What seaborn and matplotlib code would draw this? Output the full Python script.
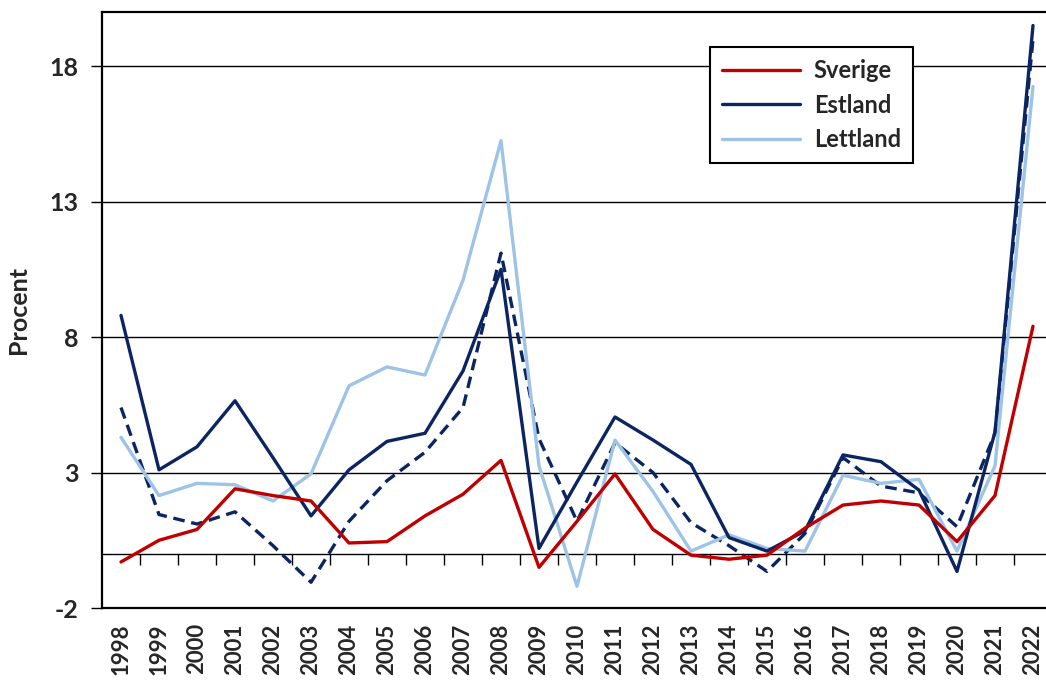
import matplotlib
matplotlib.use("Agg")
import matplotlib.pyplot as plt
import seaborn as sns
import pandas as pd
import numpy as np

years = list(range(1998, 2023))
sverige = [-0.3, 0.5, 0.9, 2.4, 2.15, 1.95, 0.4, 0.45, 1.4, 2.2, 3.45, -0.5, 1.2, 2.95, 0.9,
           -0.05, -0.2, -0.05, 0.95, 1.8, 1.95, 1.8, 0.45, 2.15, 8.4]
estland = [8.8, 3.1, 3.95, 5.65, 3.55, 1.4, 3.1, 4.15, 4.45, 6.75, 10.5, 0.2, 2.65, 5.05, 4.2,
           3.3, 0.6, 0.1, 0.85, 3.65, 3.4, 2.35, -0.65, 4.5, 19.5]
estland_dashed = [5.4, 1.45, 1.1, 1.55, 0.3, -1.05, 1.2, 2.7, 3.75, 5.4, 11.1, 4.25, 1.2, 4.1, 3.0,
                  1.15, 0.3, -0.65, 0.75, 3.55, 2.5, 2.25, 1.0, 4.45, 19.0]
lettland = [4.3, 2.15, 2.6, 2.55, 1.95, 2.95, 6.2, 6.9, 6.6, 10.1, 15.25, 3.25, -1.2, 4.2, 2.3,
            0.1, 0.7, 0.2, 0.1, 2.9, 2.6, 2.75, 0.1, 3.25, 17.25]
y_ticks = [-2, 3, 8, 13, 18]

RED = "#C00000"
NAVY = "#0B2562"
LIGHT = "#9DC3E6"

sns.set_theme(style="white")
plt.rcParams['font.family'] = ['Lato', 'DejaVu Sans']
plt.rcParams['font.weight'] = 'bold'

df = pd.DataFrame({"year": years, "Sverige": sverige, "Estland": estland,
                   "Estland2": estland_dashed, "Lettland": lettland})

fig = plt.figure(figsize=(10.46, 6.8), dpi=100)
ax = fig.add_axes([102 / 1046, 72 / 680, 950 / 1046, 596 / 680])

lw = 2.4
sns.lineplot(data=df, x="year", y="Estland2", ax=ax, color=NAVY, lw=lw,
             dashes=False, legend=False, label="_nolegend_").lines[-1].set_dashes([3.5, 2])
sns.lineplot(data=df, x="year", y="Lettland", ax=ax, color=LIGHT, lw=lw, label="Lettland")
sns.lineplot(data=df, x="year", y="Estland", ax=ax, color=NAVY, lw=lw, label="Estland")
sns.lineplot(data=df, x="year", y="Sverige", ax=ax, color=RED, lw=lw, label="Sverige")

ax.set_xlim(years[0] - 0.5, years[-1] + 0.5)
ax.set_ylim(-2, 20)
ax.set_yticks(y_ticks)
ax.set_yticklabels([str(t) for t in y_ticks], fontsize=18, fontweight='bold')
for t in y_ticks[1:]:
    ax.axhline(t, color="black", lw=1.0, zorder=0.5)
ax.axhline(0, color="black", lw=1.0, zorder=0.5)

ax.set_xticks(years)
ax.set_xticklabels([str(y) for y in years], rotation=90, fontsize=16, fontweight='bold')
ax.tick_params(axis='x', length=0, pad=11)
ax.tick_params(axis='y', length=8, width=1.0, direction='out', color='black', left=True, pad=9)

# category boundary ticks on the zero line
sec = ax.secondary_xaxis(2 / 22)
sec.set_xticks([y + 0.5 for y in years[:-1]])
sec.set_xticklabels([])
sec.tick_params(axis='x', length=8, width=1.0, direction='out', color='black')
sec.spines['bottom'].set_visible(False)

ax.set_xlabel("")
ax.set_ylabel("Procent", fontsize=18, fontweight='bold', labelpad=14)

for s in ['left', 'bottom', 'top']:
    ax.spines[s].set_color('black')
    ax.spines[s].set_linewidth(1.6)
ax.spines['right'].set_visible(False)

handles, labels = ax.get_legend_handles_labels()
order = ["Sverige", "Estland", "Lettland"]
hmap = dict(zip(labels, handles))
leg = ax.legend([hmap[o] for o in order], order, loc='upper left',
                bbox_to_anchor=((710 - 102) / 950, (608 - 47) / 596), borderaxespad=0,
                frameon=True, fancybox=False, edgecolor='black',
                handlelength=3.3, handletextpad=0.6, labelspacing=0.5,
                borderpad=0.5, prop={'weight': 'bold', 'size': 17})
leg.get_frame().set_linewidth(1.5)
leg.get_frame().set_alpha(1)

fig.savefig("out.png", dpi=100)
